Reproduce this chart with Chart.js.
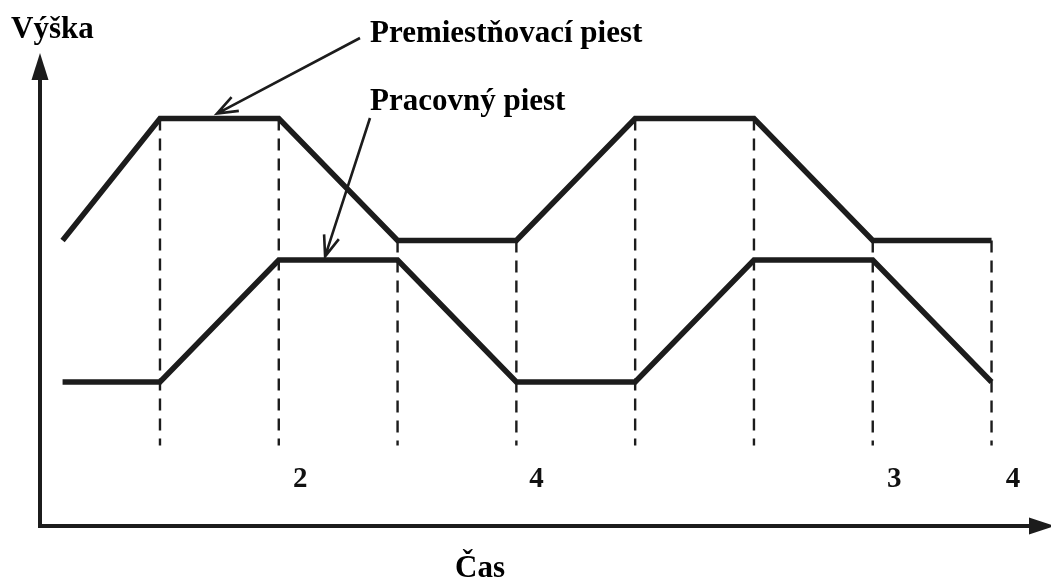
<!DOCTYPE html>
<html>
<head>
<meta charset="utf-8">
<script src="https://cdn.jsdelivr.net/npm/chart.js@4"></script>
<style>
  html, body { margin: 0; padding: 0; background: #fff; }
  #wrap { width: 1051px; height: 578px; }
</style>
</head>
<body>
<div id="wrap"><canvas id="chart"></canvas></div>
<script>
// time points (dashed lines sit on the whole numbers)
const timePoints = [0.18, 1, 2, 3, 4, 5, 6, 7, 8];
// Premiestňovací piest (displacer)
const displacerHeight = [2.34, 3.34, 3.34, 2.34, 2.34, 3.34, 3.34, 2.34, 2.34];
// Pracovný piest (working piston)
const workingHeight = [1.18, 1.18, 2.18, 2.18, 1.18, 1.18, 2.18, 2.18, 1.18];

// vertical dashed markers
const markerTimes = [1, 2, 3, 4, 5, 6, 7, 8];
const markerBottom = 0.66;

// the numbers under the markers
const tickLabels = ['2', '4', '3', '4'];
const tickPositions = [2.18, 4.17, 7.18, 8.18];
const tickLevel = 0.38;

const ink = '#1c1c1c';
const serif = '"Liberation Serif", "Times New Roman", serif';

const toPoints = (xs, ys) => xs.map((x, i) => ({ x: x, y: ys[i] }));

const datasets = [];
markerTimes.forEach(t => {
    const top = displacerHeight[timePoints.indexOf(t)];
    datasets.push({
        data: [{ x: t, y: top }, { x: t, y: markerBottom }],
        borderColor: ink,
        borderWidth: 2.4,
        borderDash: [12, 8],
        pointRadius: 0,
        fill: false
    });
});
datasets.push({
    label: 'Premiestňovací piest',
    data: toPoints(timePoints, displacerHeight),
    borderColor: ink,
    borderWidth: 5.5,
    borderJoinStyle: 'miter',
    pointRadius: 0,
    tension: 0,
    fill: false
});
datasets.push({
    label: 'Pracovný piest',
    data: toPoints(timePoints, workingHeight),
    borderColor: ink,
    borderWidth: 5.5,
    borderJoinStyle: 'miter',
    pointRadius: 0,
    tension: 0,
    fill: false
});

function arrowLine(ctx, x1, y1, x2, y2) {
    const a = Math.atan2(y2 - y1, x2 - x1);
    const len = 22, spread = 0.36;
    ctx.beginPath();
    ctx.moveTo(x1, y1);
    ctx.lineTo(x2, y2);
    ctx.moveTo(x2 - len * Math.cos(a - spread), y2 - len * Math.sin(a - spread));
    ctx.lineTo(x2, y2);
    ctx.lineTo(x2 - len * Math.cos(a + spread), y2 - len * Math.sin(a + spread));
    ctx.stroke();
}

const decorations = {
    id: 'decorations',
    afterDraw(chart) {
        const ctx = chart.ctx;
        const area = chart.chartArea;
        const xs = chart.scales.x, ys = chart.scales.y;
        ctx.save();
        ctx.fillStyle = ink;
        ctx.strokeStyle = ink;

        // axes with arrow heads
        ctx.lineWidth = 4;
        ctx.beginPath();
        ctx.moveTo(area.left, area.bottom + 2);
        ctx.lineTo(area.left, area.top + 25);
        ctx.moveTo(area.left - 2, area.bottom);
        ctx.lineTo(area.right - 14, area.bottom);
        ctx.stroke();
        ctx.beginPath();
        ctx.moveTo(area.left, area.top);
        ctx.lineTo(area.left - 8.5, area.top + 27);
        ctx.lineTo(area.left + 8.5, area.top + 27);
        ctx.closePath();
        ctx.fill();
        ctx.beginPath();
        ctx.moveTo(area.right + 10, area.bottom);
        ctx.lineTo(area.right - 16, area.bottom - 8.5);
        ctx.lineTo(area.right - 16, area.bottom + 8.5);
        ctx.closePath();
        ctx.fill();

        // numbers on the time axis
        ctx.fillStyle = '#111';
        ctx.font = 'bold 29px ' + serif;
        ctx.textAlign = 'center';
        ctx.textBaseline = 'middle';
        tickLabels.forEach((lab, i) => {
            ctx.fillText(lab, xs.getPixelForValue(tickPositions[i]), ys.getPixelForValue(tickLevel));
        });

        // axis titles
        ctx.fillStyle = '#000';
        ctx.font = 'bold 31px ' + serif;
        ctx.textBaseline = 'alphabetic';
        ctx.textAlign = 'left';
        ctx.fillText('Výška', 11, 38);
        ctx.textAlign = 'center';
        ctx.fillText('Čas', 480, 577);

        // callouts
        ctx.textAlign = 'left';
        ctx.fillText('Premiestňovací piest', 370, 42);
        ctx.fillText('Pracovný piest', 370, 110);
        ctx.lineWidth = 2.6;
        arrowLine(ctx, 360, 38, xs.getPixelForValue(1.48), ys.getPixelForValue(3.38));
        arrowLine(ctx, 370, 118, xs.getPixelForValue(2.39), ys.getPixelForValue(2.21));
        ctx.restore();
    }
};

new Chart(document.getElementById('chart'), {
    type: 'line',
    data: { datasets: datasets },
    options: {
        responsive: true,
        maintainAspectRatio: false,
        animation: false,
        layout: { padding: { left: 40, right: 6, top: 53, bottom: 52 } },
        scales: {
            x: { type: 'linear', min: -0.01, max: 8.45, display: false },
            y: { min: 0, max: 3.877, display: false }
        },
        plugins: {
            legend: { display: false },
            tooltip: { enabled: false }
        }
    },
    plugins: [decorations]
});
</script>
</body>
</html>
